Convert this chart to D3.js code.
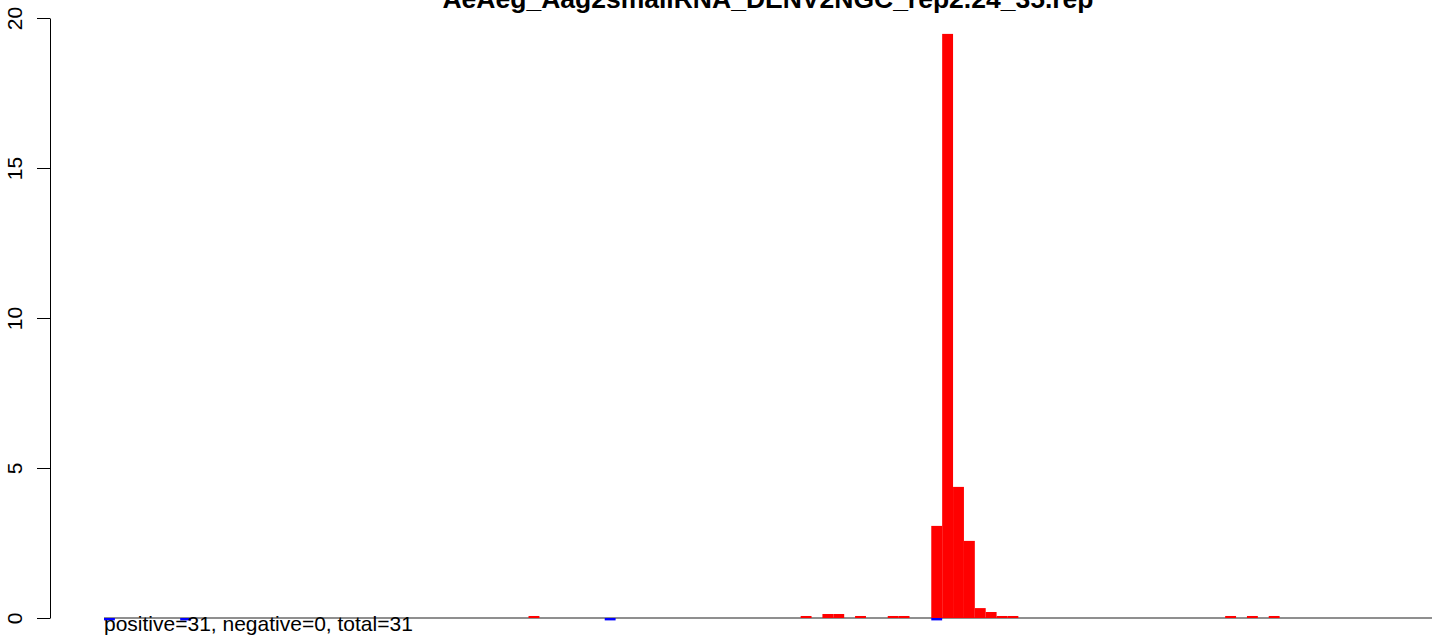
<!DOCTYPE html>
<html>
<head>
<meta charset="utf-8">
<script src="https://cdn.jsdelivr.net/npm/d3@7"></script>
<style>
  body { margin: 0; background: #fff; }
  text { font-family: "Liberation Sans", Arial, sans-serif; }
</style>
</head>
<body>
<div id="chart"></div>
<script>
// bins along the reference sequence
const nBins = 122;
const posIdx = [39, 64, 66, 67, 69, 72, 73, 76, 77, 78, 79, 80, 81, 82, 83, 103, 105, 107];
const posVal = [0.067, 0.067, 0.133, 0.133, 0.067, 0.067, 0.067, 3.07, 19.47, 4.37, 2.57, 0.33, 0.2, 0.067, 0.067, 0.067, 0.067, 0.067];
const negIdx = [0, 7, 46, 76];
const negVal = [-0.08, -0.08, -0.08, -0.08];
const yTicks = [0, 5, 10, 15, 20];
const title = "AeAeg_Aag2smallRNA_DENV2NGC_rep2.24_35.rep";
const summary = "positive=31, negative=0, total=31";

const width = 1444, height = 643;

const svg = d3.select("#chart").append("svg")
  .attr("width", width)
  .attr("height", height)
  .style("background", "#fff");

const x = d3.scaleBand()
  .domain(d3.range(nBins))
  .range([104, 1432])
  .padding(0);

const y = d3.scaleLinear()
  .domain([0, 20])
  .range([618, 18]);

// baseline
svg.append("line")
  .attr("x1", x.range()[0])
  .attr("x2", x.range()[1])
  .attr("y1", y(0))
  .attr("y2", y(0))
  .attr("stroke", "#6a6a6a")
  .attr("stroke-width", 1.3);

const pos = posIdx.map((d, i) => ({ bin: d, value: posVal[i] }));
const neg = negIdx.map((d, i) => ({ bin: d, value: negVal[i] }));

svg.append("g").selectAll("rect")
  .data(pos)
  .join("rect")
  .attr("x", d => x(d.bin))
  .attr("width", x.bandwidth())
  .attr("y", d => y(d.value))
  .attr("height", d => y(0) - y(d.value))
  .attr("fill", "#ff0000");

svg.append("g").selectAll("rect")
  .data(neg)
  .join("rect")
  .attr("x", d => x(d.bin))
  .attr("width", x.bandwidth())
  .attr("y", y(0))
  .attr("height", d => y(d.value) - y(0))
  .attr("fill", "#0000ff");

// y axis
const yAxis = svg.append("g")
  .attr("transform", "translate(50,0)")
  .call(d3.axisLeft(y).tickValues(yTicks).tickSize(13).tickSizeOuter(0));

yAxis.select(".domain").attr("stroke", "#000");
yAxis.selectAll(".tick line").attr("stroke", "#000");
yAxis.selectAll(".tick text")
  .attr("x", null)
  .attr("dy", null)
  .attr("transform", "translate(-28,0) rotate(-90)")
  .attr("text-anchor", "middle")
  .attr("fill", "#000")
  .style("font-size", "21px")
  .style("font-family", "'Liberation Sans', Arial, sans-serif");

// title (partly clipped at top, as in the original)
svg.append("text")
  .attr("x", 768)
  .attr("y", 8)
  .attr("text-anchor", "middle")
  .style("font-size", "26.5px")
  .style("font-weight", "bold")
  .text(title);

svg.append("text")
  .attr("x", 104)
  .attr("y", 631)
  .style("font-size", "21px")
  .text(summary);
</script>
</body>
</html>
